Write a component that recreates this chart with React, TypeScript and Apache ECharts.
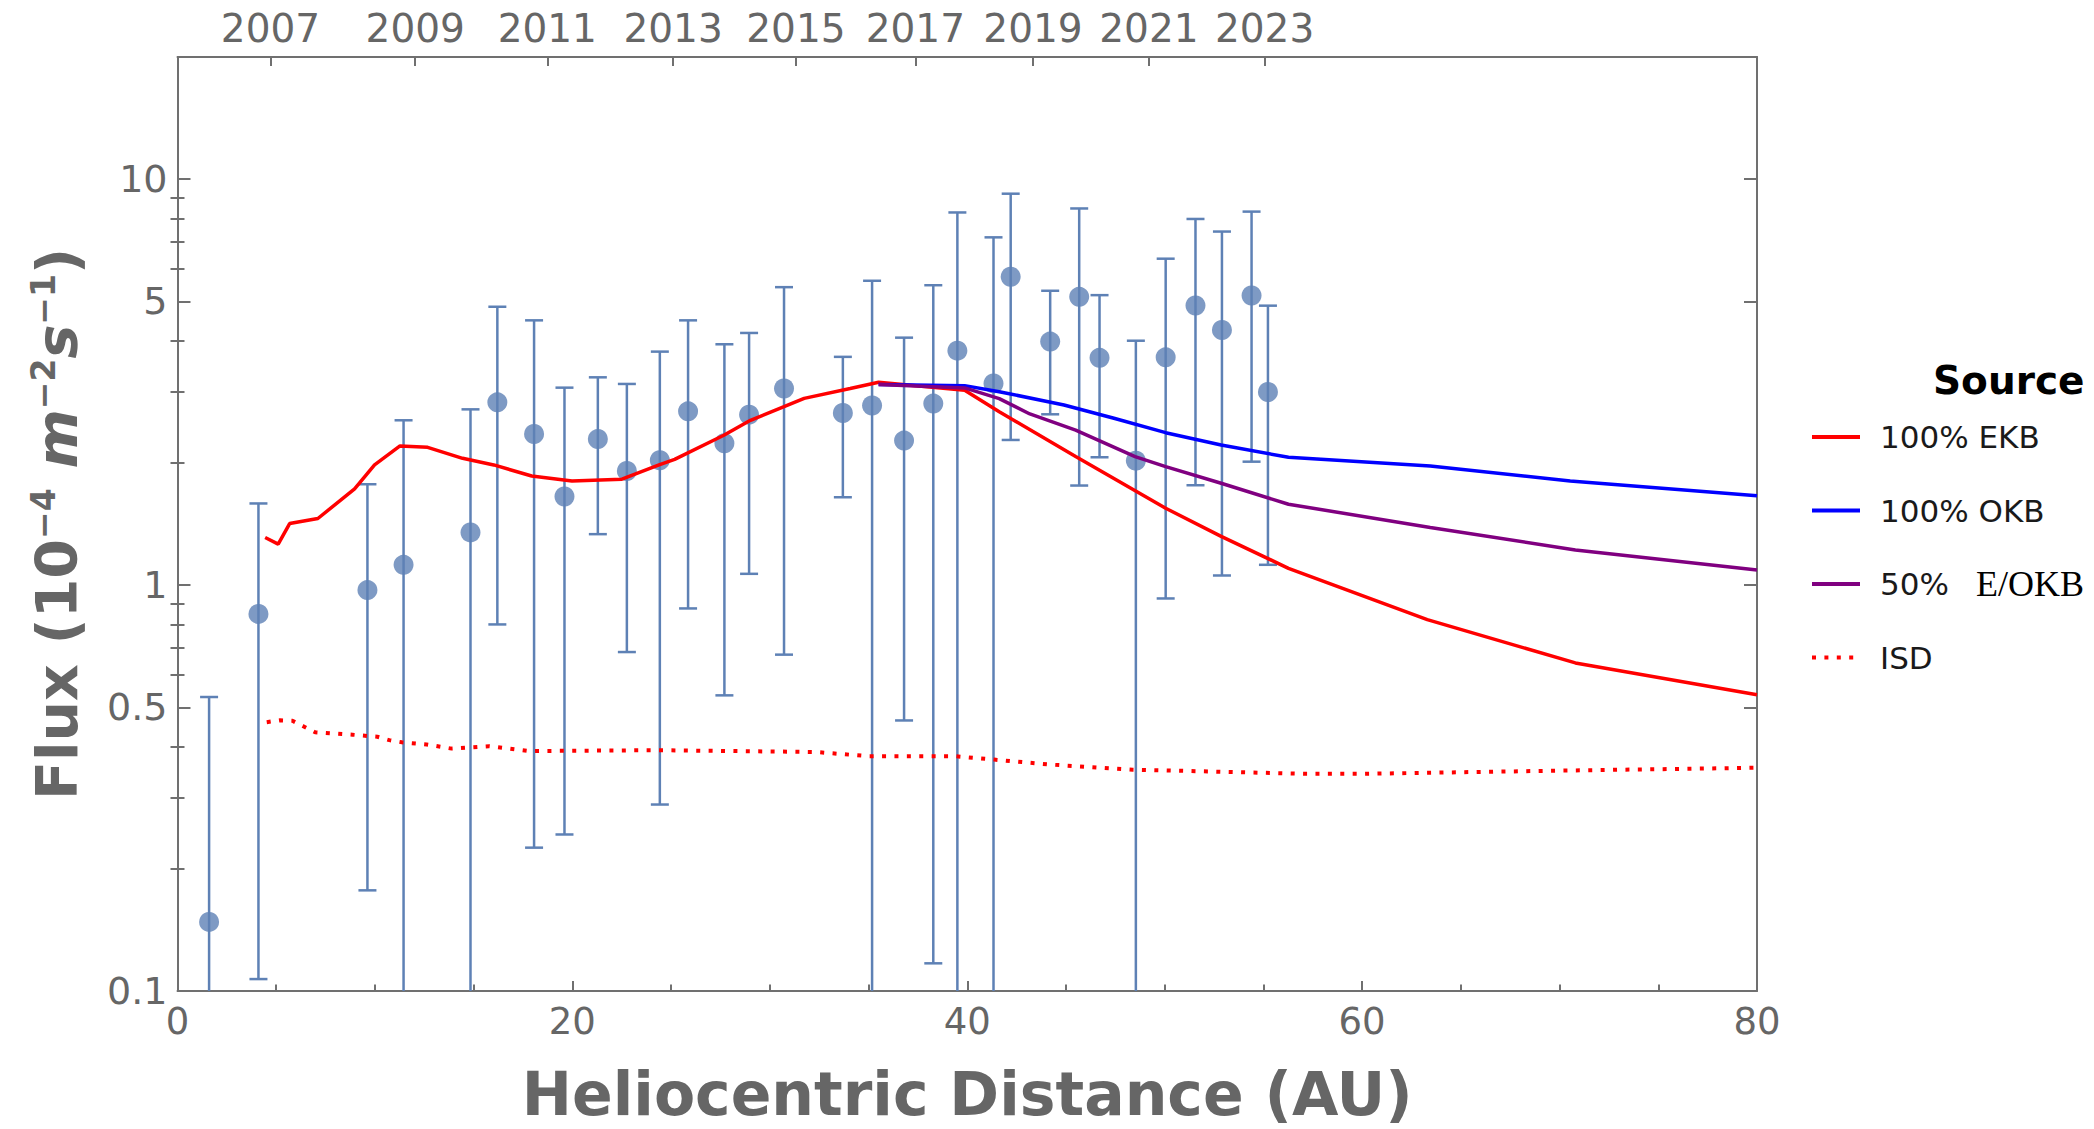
import React, { useEffect, useRef } from "react";
import * as echarts from "echarts";

// ---- observed fluxes (AU, flux, upper, lower; lower 0 = error bar reaches below the axis)
const obsAU = [1.6, 4.1, 9.62, 11.45, 14.84, 16.2, 18.06, 19.6, 21.29, 22.76, 24.43, 25.86, 27.7, 28.95, 30.72, 33.7, 35.18, 36.8, 38.28, 39.5, 41.33, 42.2, 44.2, 45.67, 46.7, 48.54, 50.05, 51.56, 52.9, 54.4, 55.23];
const obsFlux = [0.148, 0.849, 0.972, 1.122, 1.348, 2.82, 2.356, 1.653, 2.29, 1.91, 2.03, 2.68, 2.236, 2.63, 3.05, 2.654, 2.77, 2.27, 2.8, 3.78, 3.14, 5.75, 3.98, 5.13, 3.63, 2.026, 3.64, 4.885, 4.25, 5.17, 2.99];
const obsHigh = [0.53, 1.589, 1.772, 2.547, 2.71, 4.85, 4.49, 3.065, 3.25, 3.13, 3.76, 4.49, 3.92, 4.18, 5.42, 3.65, 5.62, 4.07, 5.48, 8.28, 7.19, 9.21, 5.31, 8.47, 5.18, 4.0, 6.37, 7.98, 7.43, 8.32, 4.88];
const obsLow = [0, 0.107, 0.177, 0, 0, 0.8, 0.2255, 0.243, 1.335, 0.684, 0.288, 0.876, 0.535, 1.066, 0.674, 1.646, 0, 0.464, 0.117, 0, 0, 2.278, 2.635, 1.759, 2.065, 0, 0.927, 1.762, 1.056, 2.014, 1.122];

// ---- model curves
const ekbAU = [4.44, 5.1, 5.68, 7.11, 8.97, 9.98, 11.27, 12.67, 14.44, 16.02, 17.94, 19.98, 22.51, 24.39, 25.18, 27.67, 29.02, 30.72, 31.74, 34.07, 35.51, 39.87, 41.62, 45.49, 50.05, 52.86, 56.27, 63.3, 70.8, 80];
const ekbFlux = [1.31, 1.262, 1.418, 1.459, 1.726, 1.977, 2.202, 2.185, 2.053, 1.977, 1.857, 1.806, 1.823, 1.977, 2.04, 2.34, 2.547, 2.752, 2.884, 3.05, 3.16, 3.02, 2.675, 2.073, 1.546, 1.318, 1.1, 0.822, 0.643, 0.537];
const okbAU = [35.51, 39.87, 41.62, 44.9, 47.43, 50.05, 52.86, 56.27, 63.45, 70.54, 80];
const okbFlux = [3.12, 3.1, 2.996, 2.778, 2.576, 2.374, 2.213, 2.065, 1.966, 1.806, 1.659];
const mixAU = [35.51, 39.87, 41.62, 43.17, 45.49, 48.5, 50.05, 52.86, 56.27, 63.45, 70.8, 80];
const mixFlux = [3.12, 3.06, 2.88, 2.64, 2.41, 2.073, 1.959, 1.782, 1.582, 1.387, 1.221, 1.09];
const isdAU = [4.52, 5.19, 5.82, 6.37, 6.97, 8.86, 10.12, 10.73, 11.36, 12.62, 13.89, 15.77, 17.8, 24.2, 32.34, 34.96, 39.32, 41.36, 44.2, 48.38, 57.2, 60.05, 69.93, 80];
const isdFlux = [0.4595, 0.4645, 0.4632, 0.449, 0.434, 0.428, 0.423, 0.415, 0.41, 0.405, 0.3955, 0.401, 0.39, 0.392, 0.388, 0.379, 0.379, 0.3716, 0.3613, 0.351, 0.3428, 0.3428, 0.349, 0.3548];

// ---- axes
const yearLabels = ["2007", "2009", "2011", "2013", "2015", "2017", "2019", "2021", "2023"];
const yearAU = [4.71, 12.04, 18.73, 25.1, 31.32, 37.37, 43.33, 49.2, 55.06];
const yLabelValues = [0.1, 0.5, 1, 5, 10];
const yMinorValues = [0.2, 0.3, 0.4, 0.6, 0.7, 0.8, 0.9, 2, 3, 4, 6, 7, 8, 9];
const Y_MIN = 0.1;
const Y_MAX = 20;
const X_MIN = 0;
const X_MAX = 80;

const legendNames = ["100% EKB", "100% OKB", "50% E/OKB", "ISD"];

const AXIS = "#707070";
const TXT = "#666666";
const DOT = "#5e81b5";
const FONT = "DejaVu Sans";

const lg = (v: number) => Math.log10(v);
const pairs = (xs: number[], ys: number[]) => xs.map((x, i) => [x, lg(ys[i])]);

export default function App() {
  const ref = useRef<HTMLDivElement>(null);

  useEffect(() => {
    document.body.style.margin = "0";
    const chart = echarts.init(ref.current!, null, { renderer: "svg" });

    const yFmt = (v: number) => String(parseFloat(Math.pow(10, v).toPrecision(3)));
    const yearFmt = (v: number) => {
      const i = yearAU.findIndex((a) => Math.abs(a - v) < 1e-6);
      return i >= 0 ? yearLabels[i] : "";
    };

    const axisLine = { show: true, onZero: false, lineStyle: { color: AXIS, width: 2 } };
    const tickLine = { color: AXIS, width: 2 };
    const yBase = {
      type: "value",
      min: lg(Y_MIN),
      max: lg(Y_MAX),
      splitLine: { show: false },
      axisLine,
    };

    const errData = obsAU.map((x, i) => {
      const low = obsLow[i];
      const has = low > 0 && lg(low) >= lg(Y_MIN);
      return [x, has ? lg(low) : lg(Y_MIN), lg(obsHigh[i]), has ? 1 : 0];
    });

    const option: any = {
      animation: false,
      backgroundColor: "#ffffff",
      grid: { left: 177.5, right: 337, top: 57, bottom: 136, containLabel: false },
      title: {
        text: "Source",
        left: 1933,
        top: 358,
        padding: 0,
        textStyle: { fontFamily: FONT, fontWeight: "bold", fontSize: 39, color: "#000", lineHeight: 44 },
      },
      legend: {
        data: legendNames,
        orient: "vertical",
        left: 1810,
        top: 419,
        padding: 0,
        itemWidth: 48,
        itemHeight: 14,
        itemGap: 37.5,
        itemStyle: { opacity: 0 },
        lineStyle: { width: 4 },
        formatter: (name: string) =>
          name === "50% E/OKB" ? "{a|50%}{b|E/OKB}" : `{a|${name}}`,
        textStyle: {
          fontFamily: FONT,
          fontSize: 31,
          color: "#1a1a1a",
          lineHeight: 36,
          rich: {
            a: { fontFamily: FONT, fontSize: 31, color: "#1a1a1a", lineHeight: 36, padding: [0, 0, 0, 15] },
            b: { fontFamily: "Liberation Serif", fontSize: 36, color: "#000", lineHeight: 36, padding: [0, 0, 0, 27] },
          },
        },
      },
      xAxis: [
        {
          type: "value",
          position: "bottom",
          min: X_MIN,
          max: X_MAX,
          interval: 20,
          splitLine: { show: false },
          axisLine,
          axisTick: { show: true, inside: true, length: 10, lineStyle: tickLine },
          minorTick: { show: true, splitNumber: 4, length: 6.5, lineStyle: tickLine },
          axisLabel: { fontFamily: FONT, fontSize: 37, color: TXT, margin: 12, lineHeight: 37 },
          name: "Heliocentric Distance (AU)",
          nameLocation: "middle",
          nameGap: 73,
          nameTextStyle: { fontFamily: FONT, fontWeight: "bold", fontSize: 60, color: TXT, lineHeight: 60 },
        },
        {
          type: "value",
          position: "top",
          min: X_MIN,
          max: X_MAX,
          splitLine: { show: false },
          axisLine,
          axisTick: { show: true, inside: true, length: 9, lineStyle: tickLine, customValues: yearAU },
          axisLabel: {
            customValues: yearAU,
            formatter: yearFmt,
            fontFamily: FONT,
            fontSize: 39,
            color: TXT,
            margin: 9,
            lineHeight: 39,
          },
        },
      ],
      yAxis: [
        {
          ...yBase,
          position: "left",
          axisTick: { show: true, inside: true, length: 13, lineStyle: tickLine, customValues: yLabelValues.map(lg) },
          axisLabel: {
            customValues: yLabelValues.map(lg),
            formatter: yFmt,
            fontFamily: FONT,
            fontSize: 38,
            color: TXT,
            margin: 10,
          },
          name: "{b|Flux (10}{s|\u22124}{b| }{i|m}{s|\u22122}{i|s}{s|\u22121}{b|)}",
          nameLocation: "middle",
          nameRotate: 90,
          nameGap: 91,
          nameTextStyle: {
            fontFamily: FONT,
            fontSize: 57,
            color: TXT,
            lineHeight: 60,
            rich: {
              b: { fontFamily: FONT, fontWeight: "bold", fontSize: 57, color: TXT, lineHeight: 60 },
              i: { fontFamily: FONT, fontWeight: "bold", fontStyle: "italic", fontSize: 57, color: TXT, lineHeight: 60 },
              s: { fontFamily: FONT, fontWeight: "bold", fontSize: 33, color: TXT, lineHeight: 30, verticalAlign: "top" },
            },
          },
        },
        {
          ...yBase,
          position: "left",
          axisLine: { show: false },
          axisTick: { show: true, inside: true, length: 7, lineStyle: tickLine, customValues: yMinorValues.map(lg) },
          axisLabel: { show: false },
        },
        {
          ...yBase,
          position: "right",
          axisTick: { show: true, inside: true, length: 13, lineStyle: tickLine, customValues: yLabelValues.map(lg) },
          axisLabel: { show: false },
        },
        {
          ...yBase,
          position: "right",
          axisLine: { show: false },
          axisTick: { show: true, inside: true, length: 7, lineStyle: tickLine, customValues: yMinorValues.map(lg) },
          axisLabel: { show: false },
        },
      ],
      series: [
        {
          name: "Error bars",
          type: "custom",
          xAxisIndex: 0,
          yAxisIndex: 0,
          z: 2,
          encode: { x: 0, y: [1, 2] },
          data: errData,
          renderItem: (params: any, api: any) => {
            const x = api.value(0);
            const top = api.coord([x, api.value(2)]);
            const bot = api.coord([x, api.value(1)]);
            const hw = 9;
            const style = { stroke: DOT, lineWidth: 2.5 };
            const children: any[] = [
              { type: "line", shape: { x1: top[0], y1: top[1], x2: bot[0], y2: bot[1] }, style },
              { type: "line", shape: { x1: top[0] - hw, y1: top[1], x2: top[0] + hw, y2: top[1] }, style },
            ];
            if (api.value(3) === 1) {
              children.push({ type: "line", shape: { x1: bot[0] - hw, y1: bot[1], x2: bot[0] + hw, y2: bot[1] }, style });
            }
            return { type: "group", children };
          },
        },
        {
          name: "Observed",
          type: "scatter",
          xAxisIndex: 0,
          yAxisIndex: 0,
          z: 3,
          symbol: "circle",
          symbolSize: 20,
          itemStyle: { color: DOT },
          data: pairs(obsAU, obsFlux),
        },
        {
          name: "100% EKB",
          type: "line",
          z: 4,
          symbol: "none",
          showSymbol: false,
          lineStyle: { color: "#ff0000", width: 3.5 },
          itemStyle: { color: "#ff0000" },
          data: pairs(ekbAU, ekbFlux),
        },
        {
          name: "100% OKB",
          type: "line",
          z: 4,
          symbol: "none",
          showSymbol: false,
          lineStyle: { color: "#0000ff", width: 3.5 },
          itemStyle: { color: "#0000ff" },
          data: pairs(okbAU, okbFlux),
        },
        {
          name: "50% E/OKB",
          type: "line",
          z: 4,
          symbol: "none",
          showSymbol: false,
          lineStyle: { color: "#800080", width: 3.5 },
          itemStyle: { color: "#800080" },
          data: pairs(mixAU, mixFlux),
        },
        {
          name: "ISD",
          type: "line",
          z: 4,
          symbol: "none",
          showSymbol: false,
          lineStyle: { color: "#ff0000", width: 4, type: [4, 8.4] },
          itemStyle: { color: "#ff0000" },
          data: pairs(isdAU, isdFlux),
        },
      ],
    };

    chart.setOption(option);
    return () => chart.dispose();
  }, []);

  return <div ref={ref} style={{ width: 2094, height: 1129 }} />;
}
